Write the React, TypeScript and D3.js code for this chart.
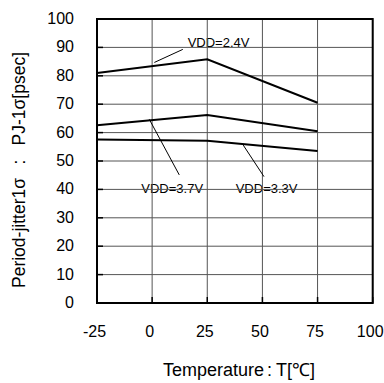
import React from "react";
import * as d3 from "d3";

const temps = [-25, 25, 75];
const vdd24 = [81.0, 85.8, 70.5];
const vdd37 = [62.6, 66.2, 60.5];
const vdd33 = [57.6, 57.1, 53.5];
const xTicks = [-25, 0, 25, 50, 75, 100];
const yTicks = [0, 10, 20, 30, 40, 50, 60, 70, 80, 90, 100];

const notes = [
  { label: "VDD=2.4V", from: [1.0, 84.7], to: [13.9, 89.3], text: [16.1, 90.0], anchor: "start" },
  { label: "VDD=3.7V", from: [-1.3, 64.7], to: [12.3, 45.1], text: [9.1, 38.6], anchor: "middle" },
  { label: "VDD=3.3V", from: [41.3, 55.6], to: [50.7, 44.5], text: [51.9, 38.6], anchor: "middle" },
];

const W = 384;
const H = 383;
const L = 97, R = 372.7, T = 19, B = 303;
const font = "'Liberation Sans', Arial, sans-serif";

export default function App() {
  const x = d3.scaleLinear().domain([-25, 100]).range([L, R]);
  const y = d3.scaleLinear().domain([0, 100]).range([B, T]);
  const line = d3
    .line<number>()
    .x((_, i) => x(temps[i]))
    .y((d) => y(d));
  const series = [vdd24, vdd37, vdd33];
  return (
    <svg
      width={W}
      height={H}
      style={{ position: "absolute", left: 0, top: 0, background: "#fff" }}
      fontFamily={font}
    >
      <rect width={W} height={H} fill="#fff" />
      {notes.map((n) => (
        <text
          key={n.label}
          x={x(n.text[0])}
          y={y(n.text[1])}
          textAnchor={n.anchor as any}
          fontSize={13}
          fill="#000"
        >
          {n.label}
        </text>
      ))}
      {yTicks.map((t) => (
        <line key={"gy" + t} x1={L} x2={R} y1={y(t)} y2={y(t)} stroke="#555" strokeWidth={1} />
      ))}
      {xTicks.map((t) => (
        <line key={"gx" + t} x1={x(t)} x2={x(t)} y1={T} y2={B} stroke="#555" strokeWidth={1} />
      ))}
      {yTicks.map((t) => (
        <line key={"ty" + t} x1={L} x2={L + 6} y1={y(t)} y2={y(t)} stroke="#000" strokeWidth={1.5} />
      ))}
      {xTicks.map((t) => (
        <line key={"tx" + t} x1={x(t)} x2={x(t)} y1={B} y2={B - 6} stroke="#000" strokeWidth={1.5} />
      ))}
      {series.map((s, i) => (
        <path key={i} d={line(s) || ""} fill="none" stroke="#000" strokeWidth={2} />
      ))}
      {notes.map((n) => (
        <line
          key={"l" + n.label}
          x1={x(n.from[0])}
          y1={y(n.from[1])}
          x2={x(n.to[0])}
          y2={y(n.to[1])}
          stroke="#000"
          strokeWidth={1}
        />
      ))}
      <rect x={L} y={T} width={R - L} height={B - T} fill="none" stroke="#000" strokeWidth={2} />
      {yTicks.map((t) => (
        <text key={"yl" + t} x={74} y={y(t) + 5} textAnchor="end" fontSize={16} fill="#000">
          {t}
        </text>
      ))}
      {xTicks.map((t) => (
        <text key={"xl" + t} x={x(t) - 2.5} y={336.5} textAnchor="middle" fontSize={16} fill="#000">
          {t}
        </text>
      ))}
      <text x={163} y={376} fontSize={18} fill="#000">
        Temperature
        <tspan x={267}>:</tspan>
        <tspan x={276}>T[℃]</tspan>
      </text>
      <g transform="translate(25,0) rotate(-90)" fontSize={17.5} fill="#000">
        <text x={-288} y={0} textAnchor="start">Period-jitter1σ</text>
        <text x={-162} y={0} textAnchor="middle">:</text>
        <text x={-52} y={0} textAnchor="end">PJ-1σ[psec]</text>
      </g>
    </svg>
  );
}
